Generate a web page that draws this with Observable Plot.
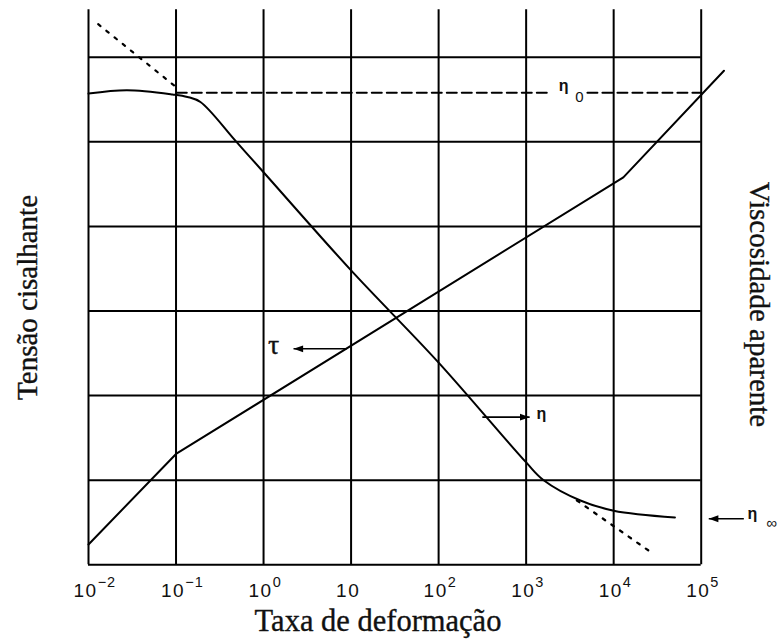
<!DOCTYPE html>
<html>
<head>
<meta charset="utf-8">
<script src="https://cdn.jsdelivr.net/npm/d3@7"></script>
<script src="https://cdn.jsdelivr.net/npm/@observablehq/plot@0.6"></script>
<style>
  html, body { margin: 0; padding: 0; background: #fff; }
  #chart svg { display: block; overflow: visible; }
</style>
</head>
<body>
<div id="chart"></div>
<script>
// Shear-rate decades shown on the horizontal (log) axis
const decades = [-2, -1, 0, 1, 2, 3, 4, 5];
const tickBase = "10";
const tickSup = ["−2", "−1", "0", "", "2", "3", "4", "5"];

// Horizontal grid levels (arbitrary log units of stress / viscosity)
const gridLevels = [0, 1, 2, 3, 4, 5, 6];

// Shear stress τ versus shear rate
const tauRate = [0.01, 0.1, 12900, 182000];
const tauLevel = [0.24, 1.31, 4.58, 5.84];

// Apparent viscosity η versus shear rate
const etaRate = [0.01, 0.0275, 0.0912, 0.135, 0.19, 0.479, 1, 10, 100, 1000, 1585, 4170, 10000, 50100];
const etaLevel = [5.57, 5.61, 5.56, 5.53, 5.47, 5.01, 4.64, 3.48, 2.39, 1.21, 1.00, 0.76, 0.64, 0.56];

// Power-law extrapolations (dotted)
const powerLawHighRate = [0.0129, 0.102];
const powerLawHighLevel = [6.39, 5.64];
const powerLawLowRate = [3800, 27500];
const powerLawLowLevel = [0.76, 0.14];

// Zero-shear viscosity η0 plateau (dashed, broken around its label)
const eta0Level = 5.58;
const eta0Segments = [[0.102, 1778], [5012, 100000]];

// Pointer arrows: from rate, to rate, level
const arrowFrom = [8.9, 316, 307000];
const arrowTo = [2.2, 1096, 122000];
const arrowLevel = [2.553, 1.745, 0.544];

// Annotation labels
const noteText = ["η", "0", "η", "η", "∞"];
const noteRate = [2673, 4074, 1496, 385500, 635300];
const noteLevel = [5.595, 5.468, 1.729, 0.536, 0.43];
const noteSize = [16, 15, 16, 16, 15];
const noteWeight = ["bold", "normal", "bold", "bold", "normal"];

// Axis titles
const xTitle = "Taxa de deformação";
const yLeftTitle = "Tensão cisalhante";
const yRightTitle = "Viscosidade aparente";

const ink = "#000";
const textInk = "#111";
const sansFont = "'Liberation Sans', Arial, sans-serif";
const serifFont = "'Liberation Serif', 'Times New Roman', serif";

const toPts = (xs, ys) => xs.map((x, i) => ({x, y: ys[i]}));

const titleStyle = {
  fontFamily: serifFont, fill: textInk, stroke: textInk, strokeWidth: 0.35, paintOrder: "stroke"
};

const chart = Plot.plot({
  width: 778,
  height: 639,
  marginLeft: 88,
  marginRight: 77.3,
  marginTop: 9.3,
  marginBottom: 74.7,
  x: {type: "log", domain: [0.01, 1e5], axis: null},
  y: {type: "linear", domain: [0, 6.56], axis: null},
  style: {background: "#fff", overflow: "visible"},
  marks: [
    // grid
    Plot.ruleY(gridLevels, {x1: 0.01, x2: 1e5, stroke: ink, strokeWidth: 2}),
    Plot.ruleX(decades.map(d => 10 ** d), {y1: 0, y2: 6.56, stroke: ink, strokeWidth: 2}),

    // η0 plateau
    ...eta0Segments.map(seg => Plot.line(seg.map(x => ({x, y: eta0Level})), {
      x: "x", y: "y", stroke: ink, strokeWidth: 2, strokeDasharray: "10,5"
    })),

    // power-law extrapolations
    Plot.line(toPts(powerLawHighRate, powerLawHighLevel), {
      x: "x", y: "y", stroke: ink, strokeWidth: 2.2, strokeDasharray: "3,7.5"
    }),
    Plot.line(toPts(powerLawLowRate, powerLawLowLevel), {
      x: "x", y: "y", stroke: ink, strokeWidth: 2.2, strokeDasharray: "3,7.5"
    }),

    // curves
    Plot.line(toPts(tauRate, tauLevel), {x: "x", y: "y", stroke: ink, strokeWidth: 2}),
    Plot.line(toPts(etaRate, etaLevel), {x: "x", y: "y", stroke: ink, strokeWidth: 2, curve: "catmull-rom"}),

    // arrows
    Plot.link(arrowFrom.map((x1, i) => ({x1, x2: arrowTo[i], y: arrowLevel[i]})), {
      x1: "x1", x2: "x2", y1: "y", y2: "y", stroke: ink, strokeWidth: 1.6,
      markerEnd: "arrow", className: "pointer"
    }),

    // τ label
    Plot.text([{x: 1.30, y: 2.497}], {
      x: "x", y: "y", text: () => "τ", textAnchor: "middle", lineAnchor: "bottom",
      fontSize: 28, ...titleStyle
    }),

    // η labels
    Plot.text(noteText.map((t, i) => ({t, x: noteRate[i], y: noteLevel[i]})), {
      x: "x", y: "y", text: "t", textAnchor: "middle", lineAnchor: "bottom",
      fontFamily: sansFont, fill: textInk, className: "note"
    }),

    // tick labels
    Plot.text(decades, {
      x: d => 10 ** d, y: () => -0.383, text: () => tickBase,
      textAnchor: "start", lineAnchor: "bottom", dx: -15,
      fontSize: 19, fontFamily: sansFont, fill: textInk, className: "xtick"
    }),

    // axis titles
    Plot.text([xTitle], {
      x: () => 20.3, y: () => -0.788, text: d => d, textAnchor: "middle", lineAnchor: "bottom",
      fontSize: 30.5, ...titleStyle
    }),
    Plot.text([yLeftTitle], {
      x: () => 0.00261, y: () => 3.16, text: d => d, rotate: -90, textAnchor: "middle", lineAnchor: "bottom",
      fontSize: 29, ...titleStyle
    }),
    Plot.text([yRightTitle], {
      x: () => 365600, y: () => 3.077, text: d => d, rotate: 90, textAnchor: "middle", lineAnchor: "bottom",
      fontSize: 29, ...titleStyle
    })
  ]
});

const svg = d3.select(chart);

// spaced decade labels with superscript exponents
svg.selectAll(".xtick text").each(function(i) {
  const t = d3.select(this).attr("letter-spacing", 1.5);
  const sup = tickSup[i];
  if (sup) {
    t.append("tspan")
      .attr("dy", -10).attr("font-size", 14.5).attr("letter-spacing", 1).text(sup);
  }
});

// per-label font size and weight for annotations
svg.selectAll(".note text").each(function(i) {
  d3.select(this).attr("font-size", noteSize[i]).attr("font-weight", noteWeight[i]);
});

// solid arrowheads
svg.selectAll(".pointer marker").each(function() {
  const m = d3.select(this);
  m.attr("overflow", "visible").attr("fill", ink).attr("stroke", "none");
  m.selectAll("path").attr("d", "M-9,-3.2L0,0L-9,3.2Z").attr("fill", ink).attr("stroke", "none");
});
svg.selectAll("marker").attr("overflow", "visible");

document.getElementById("chart").appendChild(chart);
</script>
</body>
</html>
